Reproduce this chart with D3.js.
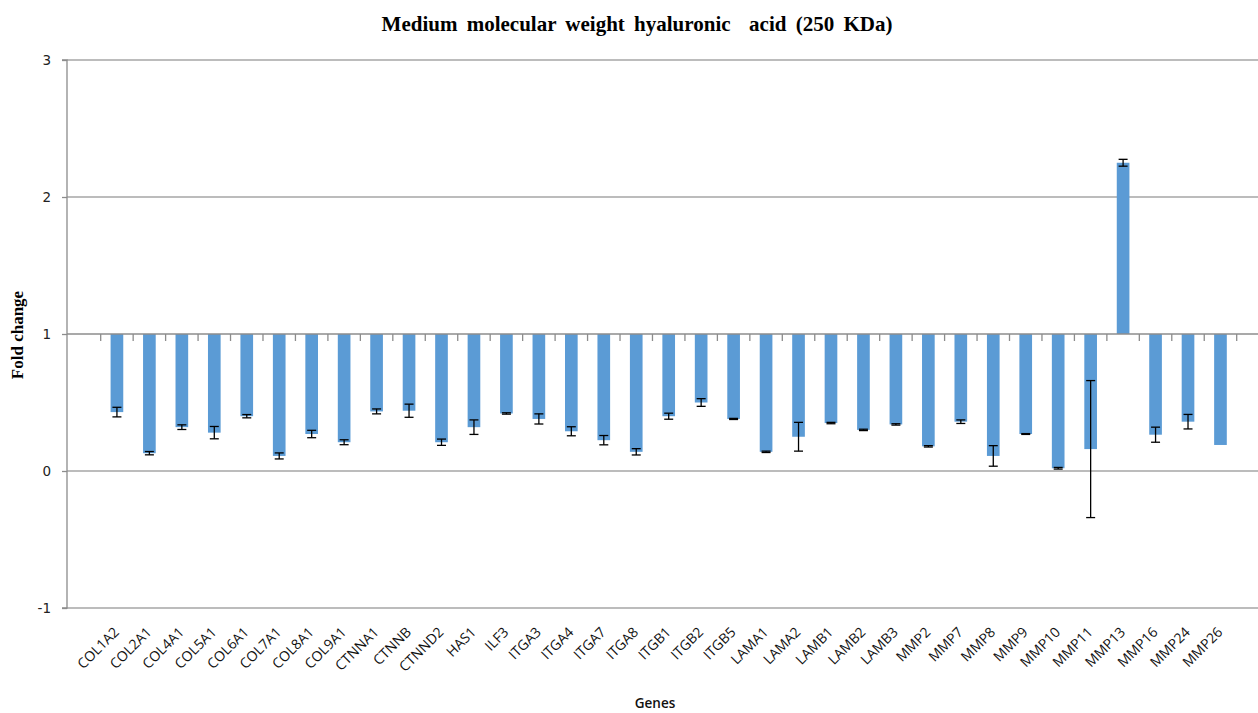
<!DOCTYPE html>
<html>
<head>
<meta charset="utf-8">
<script src="https://cdn.jsdelivr.net/npm/d3@7"></script>
<style>
  body { margin: 0; background: #fff; }
  svg { display: block; }
</style>
</head>
<body>
<script>
const width = 1258;
const height = 713;

const genes = ['COL1A2', 'COL2A1', 'COL4A1', 'COL5A1', 'COL6A1', 'COL7A1', 'COL8A1', 'COL9A1',
    'CTNNA1', 'CTNNB', 'CTNND2', 'HAS1', 'ILF3', 'ITGA3', 'ITGA4', 'ITGA7', 'ITGA8', 'ITGB1',
    'ITGB2', 'ITGB5', 'LAMA1', 'LAMA2', 'LAMB1', 'LAMB2', 'LAMB3', 'MMP2', 'MMP7', 'MMP8',
    'MMP9', 'MMP10', 'MMP11', 'MMP13', 'MMP16', 'MMP24', 'MMP26'];

const foldChange = [0.43, 0.13, 0.32, 0.28, 0.40, 0.11, 0.27, 0.21,
    0.435, 0.44, 0.21, 0.32, 0.42, 0.38, 0.29, 0.225, 0.14, 0.40,
    0.50, 0.38, 0.14, 0.25, 0.35, 0.30, 0.34, 0.18, 0.36, 0.11,
    0.27, 0.02, 0.16, 2.25, 0.265, 0.36, 0.19];

const errors = [0.035, 0.012, 0.017, 0.045, 0.012, 0.022, 0.027, 0.018,
    0.018, 0.048, 0.023, 0.053, 0.005, 0.037, 0.033, 0.034, 0.023, 0.022,
    0.028, 0.004, 0.005, 0.105, 0.005, 0.005, 0.005, 0.005, 0.013, 0.075,
    0.003, 0.006, 0.5, 0.025, 0.055, 0.053, 0];

const yTicks = [-1, 0, 1, 2, 3];
const baseline = 1;

const data = genes.map((g, i) => ({ gene: g, value: foldChange[i], err: errors[i] }));

const svg = d3.select('body')
    .append('svg')
    .attr('width', width)
    .attr('height', height);

const plotLeft = 67;
const plotRight = 1258;

const x = d3.scaleBand()
    .domain(genes)
    .range([100.7, 1236.7])
    .padding(0);

const y = d3.scaleLinear()
    .domain([-1, 3])
    .range([608, 60]);

const barW = x.bandwidth() * 0.39;

// gridlines
svg.append('g')
    .selectAll('line')
    .data(yTicks.filter(t => t !== baseline))
    .enter().append('line')
    .attr('x1', plotLeft)
    .attr('x2', plotRight)
    .attr('y1', d => y(d))
    .attr('y2', d => y(d))
    .style('stroke', '#a6a6a6')
    .style('stroke-width', 1.3);

// y axis
const yAxis = svg.append('g')
    .attr('transform', `translate(${plotLeft},0)`)
    .call(d3.axisLeft(y).tickValues(yTicks).tickSize(5).tickPadding(11).tickFormat(d => String(d)));
yAxis.selectAll('line, path').style('stroke', '#8c8c8c').style('stroke-width', 1.3);
yAxis.select('.domain').attr('d', `M-5,${y(3)}H0V${y(-1)}H-5`);
yAxis.selectAll('text')
    .style('font-family', 'DejaVu Sans, Verdana, sans-serif')
    .style('font-size', '13.5px')
    .style('fill', '#222');

// bars hang from the fold change = 1 line
svg.append('g')
    .selectAll('rect')
    .data(data)
    .enter().append('rect')
    .attr('x', d => x(d.gene) + x.bandwidth() / 2 - barW / 2)
    .attr('y', d => y(Math.max(d.value, baseline)))
    .attr('width', barW)
    .attr('height', d => Math.abs(y(d.value) - y(baseline)))
    .style('fill', '#5b9bd5');

// category axis at y = 1
const xAxis = svg.append('g');
xAxis.append('line')
    .attr('x1', plotLeft)
    .attr('x2', plotRight)
    .attr('y1', y(baseline))
    .attr('y2', y(baseline))
    .style('stroke', '#8c8c8c')
    .style('stroke-width', 1.5);
xAxis.selectAll('.tick')
    .data(genes.concat(['end']))
    .enter().append('line')
    .attr('x1', (d, i) => i < genes.length ? x(d) : x.range()[1])
    .attr('x2', (d, i) => i < genes.length ? x(d) : x.range()[1])
    .attr('y1', y(baseline))
    .attr('y2', y(baseline) + 7)
    .style('stroke', '#8c8c8c')
    .style('stroke-width', 1.3);

// error bars
const eb = svg.append('g')
    .selectAll('g')
    .data(data.filter(d => d.err > 0))
    .enter().append('g')
    .style('stroke', '#000')
    .style('stroke-width', 1.3);
eb.append('line')
    .attr('x1', d => x(d.gene) + x.bandwidth() / 2)
    .attr('x2', d => x(d.gene) + x.bandwidth() / 2)
    .attr('y1', d => y(d.value - d.err))
    .attr('y2', d => y(d.value + d.err));
eb.selectAll('.cap')
    .data(d => [d.value - d.err, d.value + d.err].map(v => ({ gene: d.gene, v: v })))
    .enter().append('line')
    .attr('x1', d => x(d.gene) + x.bandwidth() / 2 - 4.5)
    .attr('x2', d => x(d.gene) + x.bandwidth() / 2 + 4.5)
    .attr('y1', d => y(d.v))
    .attr('y2', d => y(d.v));

// category labels
svg.append('g')
    .selectAll('text')
    .data(genes)
    .enter().append('text')
    .attr('transform', d => `translate(${x(d) + x.bandwidth() / 2 + 3},${633}) rotate(-45)`)
    .attr('text-anchor', 'end')
    .style('font-family', 'Open Sans, sans-serif')
    .style('font-size', '14px')
    .style('fill', '#111')
    .text(d => d);

// titles
svg.append('text')
    .attr('x', 637)
    .attr('y', 31)
    .attr('text-anchor', 'middle')
    .style('font-family', 'Liberation Serif, Times New Roman, serif')
    .style('font-weight', 'bold')
    .style('font-size', '21px')
    .style('word-spacing', '4px')
    .style('white-space', 'pre')
    .text('Medium molecular weight hyaluronic  acid (250 KDa)');

svg.append('text')
    .attr('transform', `translate(23,335) rotate(-90)`)
    .attr('text-anchor', 'middle')
    .style('font-family', 'Liberation Serif, Times New Roman, serif')
    .style('font-weight', 'bold')
    .style('font-size', '17px')
    .text('Fold change');

svg.append('text')
    .attr('x', 655)
    .attr('y', 708)
    .attr('text-anchor', 'middle')
    .style('font-family', 'Open Sans, sans-serif')
    .style('font-weight', '600')
    .style('font-size', '13.5px')
    .style('fill', '#111')
    .text('Genes');
</script>
</body>
</html>
